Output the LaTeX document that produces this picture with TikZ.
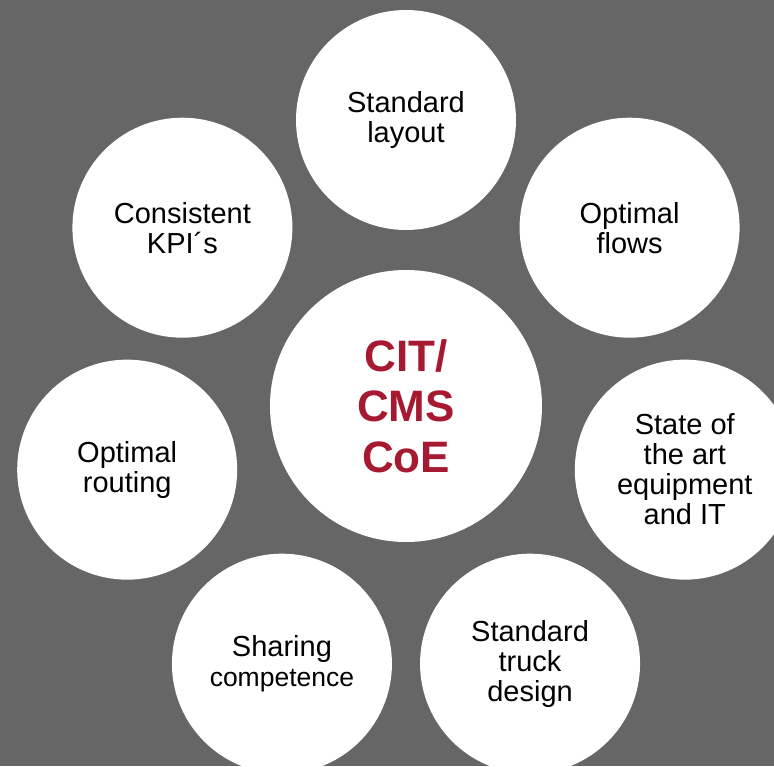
\documentclass[tikz,border=0pt]{standalone}
\usepackage{fontspec}
\setmainfont{Liberation Sans}
\usetikzlibrary{calc}
\definecolor{bggray}{HTML}{666666}
\definecolor{coered}{HTML}{A51931}
\begin{document}
\begin{tikzpicture}[x=1pt,y=1pt,
  outer/.style={circle,fill=white,minimum size=220pt,inner sep=0pt,align=center,
    font=\fontsize{29}{30}\selectfont},
  hub/.style={circle,fill=white,minimum size=272pt,inner sep=0pt,align=center,
    text=coered,font=\fontsize{44}{50.5}\selectfont\bfseries}]
\useasboundingbox (0,0) rectangle (774,766);
\clip (0,0) rectangle (774,766);
\fill[bggray] (0,0) rectangle (774,766);
\coordinate (c) at (406,360);
\node[hub] (hubnode) at (c) {CIT/\\CMS\\CoE};
\node[outer] (layout) at ($(c)+(90:286)$) {Standard\\layout};
\node[outer] (flows) at ($(c)+(38.57:286)$) {Optimal\\flows};
\node[outer] (state) at ($(c)+(-12.86:286)$) {State of\\the art\\equipment\\and IT};
\node[outer] (truck) at ($(c)+(-64.29:286)$) {Standard\\truck\\design};
\node[outer] (sharing) at ($(c)+(-115.71:286)$) {Sharing\\{\fontsize{26.5}{30}\selectfont competence}};
\node[outer] (routing) at ($(c)+(-167.14:286)$) {Optimal\\routing};
\node[outer] (kpi) at ($(c)+(141.43:286)$) {Consistent\\KPI´s};
\end{tikzpicture}
\end{document}
